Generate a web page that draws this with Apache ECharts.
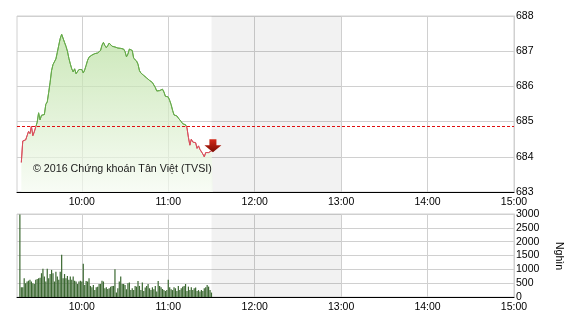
<!DOCTYPE html>
<html><head><meta charset="utf-8">
<script src="https://cdn.jsdelivr.net/npm/echarts@6/dist/echarts.min.js"></script>
<style>html,body{margin:0;padding:0;background:#fff}#c{width:570px;height:320px}</style>
</head><body><div id="c"></div>
<script>
// ---- data ----
const sessionStart = '09:15';
const sessionEnd = '15:00';
const hourLabels = ['10:00', '11:00', '12:00', '13:00', '14:00', '15:00'];
const breakStart = '11:30';
const breakEnd = '13:00';
const refPrice = 684.88;
const priceMin = 683, priceMax = 688, priceStep = 1;
const volumeMin = 0, volumeMax = 3000, volumeStep = 500;

const priceStart = '09:18';
const prices = [683.84, 684.45, 684.50, 684.48, 684.60, 684.72, 684.66, 684.87, 684.60, 684.71,
  684.74, 684.98, 685.25, 685.05, 685.18, 685.22, 685.20, 685.49, 685.56, 685.83,
  686.12, 686.45, 686.62, 686.62, 686.78, 686.97, 687.17, 687.36, 687.48, 687.46,
  687.25, 687.14, 687.00, 686.80, 686.64, 686.50, 686.41, 686.50, 686.36, 686.33,
  686.48, 686.50, 686.48, 686.38, 686.47, 686.60, 686.74, 686.83, 686.86, 686.89,
  686.91, 686.93, 686.97, 686.95, 686.92, 687.02, 687.17, 687.25, 687.16, 687.10,
  687.16, 687.23, 687.22, 687.14, 687.10, 687.12, 687.08, 687.09, 687.08, 687.08,
  687.11, 687.06, 686.99, 686.84, 686.92, 687.06, 687.10, 687.02, 686.80, 686.78,
  686.72, 686.63, 686.45, 686.38, 686.43, 686.31, 686.28, 686.24, 686.20, 686.17,
  686.13, 686.11, 686.08, 685.97, 685.87, 685.87, 685.88, 685.87, 685.92, 685.84,
  685.72, 685.75, 685.70, 685.60, 685.48, 685.32, 685.19, 685.15, 685.16, 685.10,
  685.07, 685.00, 684.94, 684.92, 684.91, 684.82, 684.55, 684.33, 684.50, 684.42,
  684.40, 684.40, 684.24, 684.31, 684.21, 684.17, 684.08, 684.00, 684.12, 684.09,
  684.12, 684.14, 684.17, 684.20];

const volumeStart = '09:17';
const volumes = [2980, 350, 350, 680, 500, 560, 590, 620, 560, 500, 470,
  620, 650, 680, 700, 860, 1020, 740, 560, 1020, 680, 830,
  980, 860, 560, 910, 740, 620, 910, 1525, 680, 830, 680,
  760, 620, 740, 620, 740, 590, 560, 470, 560,
  590, 560, 1200, 435, 580, 560, 680, 400, 350, 435, 250, 350, 375, 470, 470, 590, 560, 315, 350, 290, 315, 375, 400, 400, 1000, 160,
  315, 560, 740, 470, 470, 435, 280, 500, 520, 250, 315, 250, 400, 375, 580, 400, 250, 520,
  220, 340, 400, 470, 315, 250, 350, 280, 400, 195, 580, 400, 350, 290, 250, 220, 250, 620,
  350, 280, 250, 350, 315, 220, 400, 250, 315, 375, 400, 470, 220, 375, 250, 350, 250, 315,
  340, 220, 250, 195, 250, 220, 315, 350, 435, 375, 250, 160];

const copyrightText = '© 2016 Chứng khoán Tân Việt (TVSI)';
const volumeUnit = 'Nghìn';

// ---- build ----
function toMin(s) { const p = s.split(':').map(Number); return p[0] * 60 + p[1]; }
function toStr(m) { const h = Math.floor(m / 60), mm = m % 60; return (h < 10 ? '0' : '') + h + ':' + (mm < 10 ? '0' : '') + mm; }
const categories = [];
for (let t = toMin(sessionStart); t <= toMin(sessionEnd); t++) categories.push(toStr(t));
function place(startLabel, arr) {
  const off = categories.indexOf(startLabel);
  return categories.map((c, i) => (i - off >= 0 && i - off < arr.length) ? arr[i - off] : '-');
}
const priceData = place(priceStart, prices);
const volumeData = place(volumeStart, volumes);
const lastIdx = categories.indexOf(priceStart) + prices.length - 1;
const isHour = (idx, val) => hourLabels.indexOf(val) >= 0;

const labelFont = "'Liberation Sans Narrow','Arial Narrow','Liberation Sans',sans-serif";
const gridColor = '#d0d0d0';
const upColor = '#66aa4a', downColor = '#d8505c';
const breakArea = {
  silent: true, itemStyle: { color: 'rgba(0,0,0,0.05)' },
  data: [[{ xAxis: breakStart }, { xAxis: breakEnd }]]
};

function xAxisCfg(gi) {
  return {
    type: 'category', gridIndex: gi, data: categories, boundaryGap: false,
    axisLine: { show: true, lineStyle: { color: '#000', width: 1 } },
    axisTick: { show: false },
    axisLabel: { interval: isHour, color: '#000', fontFamily: labelFont, fontSize: 10.5, margin: 5 },
    splitLine: { show: true, interval: isHour, lineStyle: { color: gridColor, width: 1 } }
  };
}
function yAxisCfg(gi, mn, mx, st) {
  return {
    type: 'value', gridIndex: gi, position: 'right', min: mn, max: mx, interval: st,
    axisLine: { show: true, lineStyle: { color: gridColor } },
    axisTick: { show: false },
    axisLabel: { color: '#000', fontFamily: labelFont, fontSize: 10.5, margin: 2, formatter: v => String(v) },
    splitLine: { show: true, lineStyle: { color: gridColor, width: 1 } }
  };
}

const chart = echarts.init(document.getElementById('c'), null, { renderer: 'canvas' });
chart.setOption({
  animation: false,
  backgroundColor: '#fff',
  grid: [
    { left: 17, right: 56, top: 16, height: 176, show: true, borderColor: gridColor, borderWidth: 1, backgroundColor: 'transparent' },
    { left: 17, right: 56, top: 214, height: 83, show: true, borderColor: gridColor, borderWidth: 1, backgroundColor: 'transparent' }
  ],
  xAxis: [xAxisCfg(0), xAxisCfg(1)],
  yAxis: [yAxisCfg(0, priceMin, priceMax, priceStep), yAxisCfg(1, volumeMin, volumeMax, volumeStep)],
  graphic: [
    { type: 'text', x: 33, y: 169, z: 50, style: { text: copyrightText, fill: '#1a1a1a', font: "10.7px 'Liberation Sans', Arial, sans-serif", verticalAlign: 'middle', align: 'left' } },
    { type: 'text', x: 559, y: 256, rotation: -Math.PI / 2, z: 50, style: { text: volumeUnit, fill: '#000', font: "10.5px 'Liberation Sans', Arial, sans-serif", verticalAlign: 'middle', align: 'center' } }
  ],
  series: [
    {
      id: 'price', type: 'line', xAxisIndex: 0, yAxisIndex: 0, data: priceData,
      showSymbol: false, symbol: 'none', lineStyle: { width: 1, color: upColor },
      areaStyle: {
        origin: 'start',
        color: new echarts.graphic.LinearGradient(0, 0, 0, 1, [
          { offset: 0, color: '#b6de9c' }, { offset: 1, color: '#f5fbf1' }
        ])
      },
      markArea: breakArea,
      markLine: {
        silent: true, symbol: 'none', label: { show: false },
        lineStyle: { color: '#e01010', type: [3, 2], width: 1 },
        data: [{ yAxis: refPrice }]
      },
      markPoint: {
        silent: true,
        symbol: 'path://M5,0 L12,0 L12,6 L17,6 L8.5,13 L0,6 L5,6 Z',
        symbolSize: [17, 13], symbolOffset: [0, -4],
        label: { show: false },
        itemStyle: {
          color: new echarts.graphic.LinearGradient(0, 0, 0, 1, [
            { offset: 0, color: '#d42a1a' }, { offset: 1, color: '#7a0a00' }
          ])
        },
        data: [{ coord: [categories[lastIdx], prices[prices.length - 1]] }]
      }
    },
    {
      type: 'bar', xAxisIndex: 1, yAxisIndex: 1, data: volumeData,
      barWidth: 1.2, itemStyle: { color: '#3b6831' }
    },
    {
      type: 'line', xAxisIndex: 1, yAxisIndex: 1, data: [], silent: true,
      showSymbol: false, markArea: breakArea
    }
  ]
});
// split line colour at the reference price (global pixel gradient)
const refY = chart.convertToPixel({ yAxisIndex: 0 }, refPrice);
const H = 320;
chart.setOption({
  series: [{
    id: 'price',
    lineStyle: {
      color: new echarts.graphic.LinearGradient(0, 0, 0, H, [
        { offset: 0, color: upColor }, { offset: refY / H, color: upColor },
        { offset: refY / H, color: downColor }, { offset: 1, color: downColor }
      ], true)
    }
  }]
});
</script></body></html>
